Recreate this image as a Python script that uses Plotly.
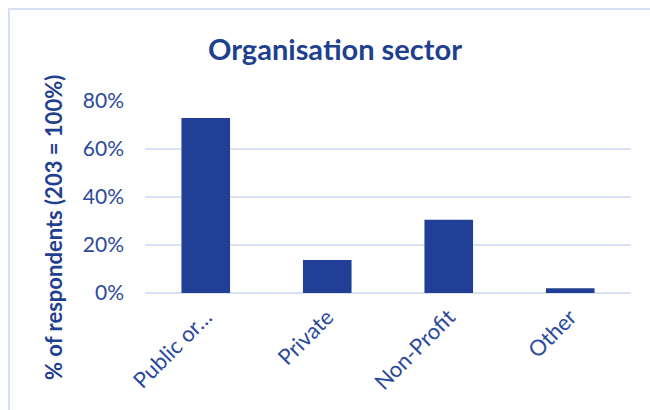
import plotly.graph_objects as go

# Organisation sector of respondents (share of 203 respondents)
categories = ["Public or…", "Private", "Non-Profit", "Other"]
shares = [0.729, 0.138, 0.305, 0.020]
tick_values = [0, 0.2, 0.4, 0.6, 0.8]
tick_labels = ["0%", "20%", "40%", "60%", "80%"]

W, H = 650, 410
L, R, T, B = 145, 19, 101, 117
pw, ph = W - L - R, H - T - B

def px_x(p):
    return (p - L) / pw

def px_y(p):
    return (H - B - p) / ph

text_col = "#2b4a9b"
bar_col = "#213f96"
grid_col = "#d9e2f3"
font_family = "Lato, 'Open Sans', sans-serif"

fig = go.Figure(
    go.Bar(
        x=categories,
        y=shares,
        width=0.4,
        marker=dict(color=bar_col, line=dict(width=0)),
        hoverinfo="skip",
    )
)

fig.update_layout(
    width=W,
    height=H,
    margin=dict(l=L, r=R, t=T, b=B),
    paper_bgcolor="white",
    plot_bgcolor="white",
    showlegend=False,
    font=dict(family=font_family, color=text_col),
    title=dict(
        text="<b>Organisation sector</b>",
        font=dict(size=29, color="#1f3f8f", family=font_family),
        x=px_x(335),
        xref="paper",
        xanchor="center",
        y=1 - 50 / H,
        yref="container",
        yanchor="middle",
    ),
    xaxis=dict(
        type="category",
        tickangle=-45,
        tickfont=dict(size=22, color=text_col),
        showgrid=False,
        showline=False,
        ticks="",
        ticklabelstandoff=6,
    ),
    yaxis=dict(
        range=[0, 0.8],
        tickvals=tick_values,
        ticktext=tick_labels,
        tickfont=dict(size=21, color=text_col),
        showgrid=True,
        gridcolor=grid_col,
        gridwidth=1.5,
        zeroline=True,
        zerolinecolor=grid_col,
        zerolinewidth=1.5,
        showline=False,
        ticks="",
        ticklabelstandoff=20,
    ),
    annotations=[
        dict(
            text="<b>% of respondents (203 = 100%)</b>",
            x=px_x(53),
            y=px_y(228),
            xref="paper",
            yref="paper",
            textangle=-90,
            showarrow=False,
            font=dict(size=22, color="#1f3f8f", family=font_family),
            xanchor="center",
            yanchor="middle",
        )
    ],
    shapes=[
        dict(
            type="rect",
            xref="paper",
            yref="paper",
            x0=px_x(9),
            x1=px_x(690),
            y0=px_y(440),
            y1=px_y(9),
            line=dict(color="#d6e0f5", width=2),
            fillcolor="rgba(0,0,0,0)",
            layer="below",
        )
    ],
)

fig.write_html("out.html")
